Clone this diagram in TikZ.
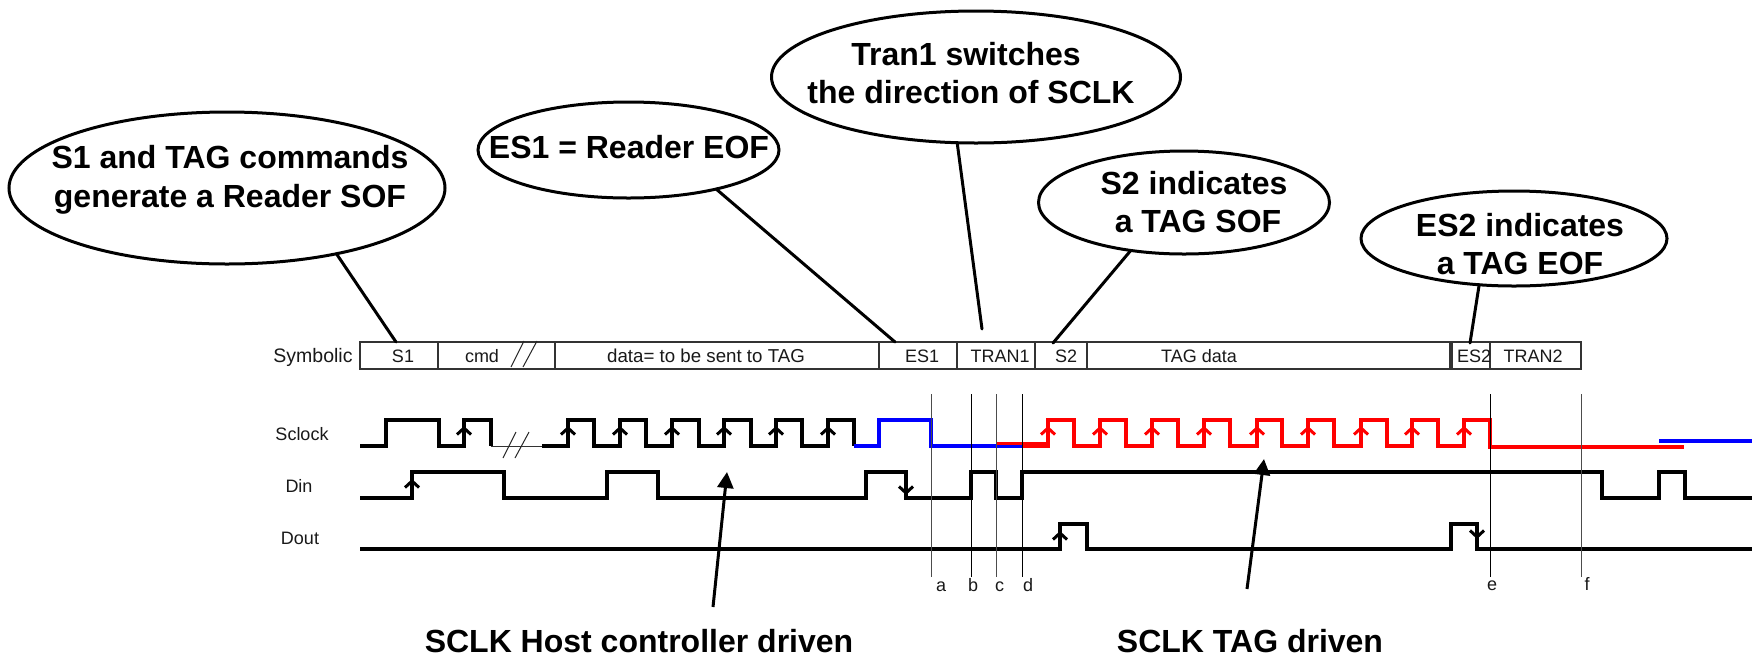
\documentclass[tikz,border=0pt]{standalone}
\usepackage{fontspec}
\setmainfont{Liberation Sans}
\usetikzlibrary{arrows.meta,shapes.geometric}
\tikzset{
  callout/.style={draw=black,line width=3pt,ellipse,inner sep=0pt,outer sep=0pt,fill=none},
  bigtext/.style={font=\fontsize{32}{38.5}\selectfont\bfseries,align=center,inner sep=0pt,outer sep=0pt},
  boldline/.style={font=\fontsize{32}{38.5}\selectfont\bfseries,anchor=base,inner sep=0pt,outer sep=0pt},
  smalltext/.style={font=\fontsize{18}{22}\selectfont,anchor=base,inner sep=0pt,outer sep=0pt,text=black!90},
  cell/.style={draw=black!80,line width=1.2pt,rectangle,inner sep=0pt,outer sep=0pt,minimum height=27pt},
  pin/.style={line width=3pt,line cap=round},
  pointer/.style={line width=3pt,-{Triangle[length=16pt,width=16pt]}},
  wave/.style={line width=3.3pt,line join=miter},
  tick/.style={line width=3pt,line join=miter,line cap=butt},
  guide/.style={line width=1pt,black!70},
  slash/.style={line width=1pt,black!85}
}
\newcommand{\tickup}[3][black]{\draw[tick,#1] (#2-7,#3+6.5) -- (#2,#3) -- (#2+7,#3+6.5);}
\newcommand{\tickdn}[3][black]{\draw[tick,#1] (#2-7,#3-6.5) -- (#2,#3) -- (#2+7,#3-6.5);}
\begin{document}
\begin{tikzpicture}[x=1pt,y=-1pt]
\useasboundingbox (0,0) rectangle (1752,657);
\fill[white] (0,0) rectangle (1752,657);
% callouts
\node[callout,minimum width=436pt,minimum height=152pt] (e1) at (227,188) {};
\node[callout,minimum width=301pt,minimum height=96pt] (e2) at (628.5,150) {};
\node[callout,minimum width=409pt,minimum height=132pt] (e3) at (976,77) {};
\node[callout,minimum width=291pt,minimum height=103pt] (e4) at (1184,202.5) {};
\node[callout,minimum width=306pt,minimum height=95pt] (e5) at (1514,238.5) {};
\node[bigtext] (t1) at (230,180) {S1 and TAG commands\\generate a Reader SOF};
\node[boldline] (t2) at (629,158) {ES1 = Reader EOF};
\node[bigtext] (t3) at (971,73) {Tran1 switches\hspace*{10pt}\\the direction of SCLK};
\node[bigtext] (t4) at (1194,202) {S2 indicates\\\hspace*{8pt}a TAG SOF};
\node[bigtext] (t5) at (1520,244) {ES2 indicates\\a TAG EOF};
% symbolic row
\node[cell,minimum width=78pt]  (s1)   at (399,355.5) {};
\node[cell,minimum width=117pt] (cmd)  at (496.5,355.5) {};
\node[cell,minimum width=324pt] (dat)  at (717,355.5) {};
\node[cell,minimum width=78pt]  (es1)  at (918,355.5) {};
\node[cell,minimum width=78pt]  (tr1)  at (996,355.5) {};
\node[cell,minimum width=52pt]  (s2)   at (1061,355.5) {};
\node[cell,minimum width=363pt] (tag)  at (1268.5,355.5) {};
\node[cell,minimum width=38pt]  (es2)  at (1471,355.5) {};
\node[cell,minimum width=91pt]  (tr2)  at (1535.5,355.5) {};
\node[smalltext,font=\fontsize{19.5}{24}\selectfont] (lsym) at (313,362) {Symbolic};
\node[smalltext] (ls1)  at (403,362) {S1};
\node[smalltext] (lcmd) at (482,362) {cmd};
\node[smalltext,font=\fontsize{18.7}{22}\selectfont] (ldat) at (706,362) {data= to be sent to TAG};
\node[smalltext] (les1) at (922,362) {ES1};
\node[smalltext] (ltr1) at (1000,362) {TRAN1};
\node[smalltext] (ls2)  at (1066,362) {S2};
\node[smalltext] (ltag) at (1199,362) {TAG data};
\node[smalltext] (les2) at (1474,362) {ES2};
\node[smalltext] (ltr2) at (1533,362) {TRAN2};
\draw[slash] (511,367) -- (524,341);
\draw[slash] (523,367) -- (537,341);
% signal names
\node[smalltext] (lsck) at (302,440) {Sclock};
\node[smalltext] (ldin) at (299,492) {Din};
\node[smalltext] (ldou) at (300,544) {Dout};
% guides
\coordinate (gat) at (931,394); \coordinate (gab) at (931,577);
\coordinate (gbt) at (971,394); \coordinate (gbb) at (971,577);
\coordinate (gct) at (996,394); \coordinate (gcb) at (996,577);
\coordinate (gdt) at (1022,394); \coordinate (gdb) at (1022,577);
\coordinate (get) at (1490,394); \coordinate (geb) at (1490,577);
\coordinate (gft) at (1581,394); \coordinate (gfb) at (1581,577);
% Sclock
\draw[wave] (360,446) -| (386,420) -| (439,446) -| (464,420) -| (491,446);
\draw[line width=1pt,black!80] (491,446.5) -- (542,446.5);
\draw[slash] (503,458) -- (516,432);
\draw[slash] (515,458) -- (529,432);
\draw[wave] (542,446) -| (568,420) -| (594,446) -| (620,420) -| (646,446) -| (672,420) -| (699,446) -| (724,420) -| (751,446) -| (776,420) -| (802,446) -| (828,420) -| (854,446);
\draw[wave,blue] (854,446) -| (879,420) -| (931,446) -- (1022,446);
\draw[wave,red] (1048,447) |- (1074,420) |- (1100,446) |- (1126,420) |- (1152,446) |- (1178,420) |- (1204,446) |- (1230,420) |- (1257,446) |- (1282,420) |- (1308,446) |- (1334,420) |- (1361,446) |- (1387,420) |- (1412,446) |- (1438,420) |- (1464,446) |- (1490,420) -- (1490,447) -- (1684,447);
\draw[red,line width=3.5pt] (996,443.5) -- (1022,443.5);
\draw[red,line width=6.5pt] (1022,444.8) -- (1049.6,444.8);
\draw[wave,blue] (1659,441) -- (1752,441);
\foreach \x in {464,568,620,672,724,776,828} {\tickup{\x}{428}}
\foreach \x in {1048,1100,1152,1204,1257,1308,1361,1412,1464} {\tickup[red]{\x}{428}}
% Din
\draw[wave] (360,498) -| (412,472) -| (504,498) -| (607,472) -| (658,498) -| (866,472) -| (906,498) -| (971,472) -| (996,498) -| (1022,472) -| (1602,498) -| (1659,472) -| (1685,498) -- (1752,498);
\tickup{412}{481}
\tickdn{906}{493}
% Dout
\draw[wave] (360,549) -| (1060,524) -| (1087,549) -| (1451,524) -| (1477,549) -- (1752,549);
\tickup{1060}{533}
\tickdn{1477}{537}
% guides over the signals
\draw[guide] (gat) -- (gab);
\draw[guide,black] (gbt) -- (gbb);
\draw[guide] (gct) -- (gcb);
\draw[guide,black] (gdt) -- (gdb);
\draw[guide,black] (get) -- (geb);
\draw[guide] (gft) -- (gfb);
\node[smalltext] (la) at (941,591) {a};
\node[smalltext] (lb) at (973,591) {b};
\node[smalltext] (lc) at (999.5,591) {c};
\node[smalltext] (ld) at (1028,591) {d};
\node[smalltext] (le) at (1492,590) {e};
\node[smalltext] (lf) at (1587,590) {f};
% callout pins
\coordinate (p1) at (396,342);
\coordinate (p2) at (895,342);
\coordinate (p3) at (982,329);
\coordinate (p4) at (1053,343);
\coordinate (p5) at (1470,343);
\draw[pin] (e1.-31.7) -- (p1);
\draw[pin] (e2.-24.1) -- (p2);
\draw[pin] (e3.-106.6) -- (p3);
\draw[pin] (e4.-138.5) -- (p4);
\draw[pin] (e5.-127.8) -- (p5);
% bottom labels
\node[boldline] (hc) at (639,652) {SCLK Host controller driven};
\node[boldline] (td) at (1250,652) {SCLK TAG driven};
\coordinate (hct) at (713,607); \coordinate (hch) at (727,472);
\coordinate (tdt) at (1247,589); \coordinate (tdh) at (1264,459);
\draw[pointer] (hct) -- (hch);
\draw[pointer] (tdt) -- (tdh);
\end{tikzpicture}
\end{document}
